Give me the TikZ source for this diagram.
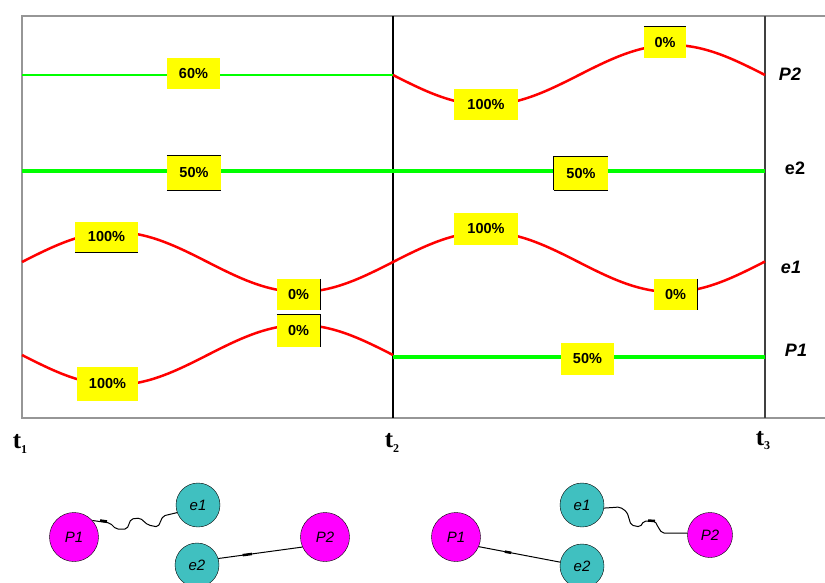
\documentclass[tikz,border=0pt]{standalone}
\usepackage{fontspec}
\setmainfont{Liberation Sans}
\newfontfamily\tfont{Liberation Serif}
\usetikzlibrary{calc}
\definecolor{myred}{RGB}{255,0,0}
\definecolor{mygreen}{RGB}{0,255,0}
\definecolor{myyellow}{RGB}{255,255,0}
\definecolor{mymag}{RGB}{255,0,255}
\definecolor{myteal}{RGB}{64,192,192}
\definecolor{framegray}{RGB}{150,150,150}
\begin{document}
\begin{tikzpicture}[x=1pt,y=-1pt,
 pct/.style={fill=myyellow, inner sep=0pt, minimum height=31pt, font=\fontsize{14.5}{14.5}\selectfont\bfseries},
 wave/.style={myred, line width=2.5pt},
 gline/.style={mygreen, line width=2pt},
 gthick/.style={mygreen, line width=3.5pt},
 sidelbl/.style={font=\fontsize{18}{18}\selectfont\bfseries\itshape},
 tlbl/.style={font=\tfont\fontsize{25}{25}\selectfont\bfseries, inner sep=0pt},
 pnode/.style={circle, draw=black, fill=mymag, minimum size=49pt, inner sep=0pt, font=\fontsize{15}{15}\selectfont\itshape},
 enode/.style={circle, draw=black, fill=myteal, minimum size=44pt, inner sep=0pt, font=\fontsize{15}{15}\selectfont\itshape},
 bord/.style={black, line width=1.3pt},
 conn/.style={black, line width=1pt}
]
\useasboundingbox (0,0) rectangle (825,582);
% frame
\draw[framegray, line width=1.5pt] (825,16) -- (22,16) -- (22,418) -- (825,418);
\draw[black, line width=1.2pt] (393,16) -- (393,418);
\draw[black!75, line width=1.6pt] (765,16) -- (765,418);
% signals
\draw[gline] (22,75) -- (393,75);
\draw[wave] plot[domain=393:765,samples=120] (\x,{75+30*sin(0.96774*(\x-393))});
\draw[gthick] (22,171) -- (765,171);
\draw[wave] plot[domain=22:765,samples=220] (\x,{262-30*sin(0.97035*(\x-22))});
\draw[wave] plot[domain=22:393,samples=120] (\x,{355+30*sin(0.97035*(\x-22))});
\draw[gthick] (393,357) -- (765,357);
% percentage boxes
\node[pct, minimum width=53pt] (b1) at (193.5,73.5) {60\%};
\node[pct, minimum width=54pt, minimum height=34pt] (b2) at (194,173) {50\%};
\node[pct, minimum width=54pt, minimum height=33pt] (b3) at (581,173.5) {50\%};
\node[pct, minimum width=64pt] (b4) at (486,104.5) {100\%};
\node[pct, minimum width=42pt] (b5) at (665,42.5) {0\%};
\node[pct, minimum width=63pt, minimum height=30pt] (b6) at (106.5,237) {100\%};
\node[pct, minimum width=43pt] (b7) at (298.5,294.5) {0\%};
\node[pct, minimum width=43pt, minimum height=32pt] (b8) at (298.5,331) {0\%};
\node[pct, minimum width=61pt, minimum height=34pt] (b9) at (107.5,384) {100\%};
\node[pct, minimum width=64pt, minimum height=32pt] (b10) at (486,229) {100\%};
\node[pct, minimum width=43pt] (b11) at (675.5,294.5) {0\%};
\node[pct, minimum width=53pt, minimum height=32pt] (b12) at (587.5,359) {50\%};
% partial black borders
\draw[bord] (b2.north west) -- (b2.north east);
\draw[bord] (b2.south west) -- (b2.south east);
\draw[bord] (b3.south west) -- (b3.north west) -- (b3.north east);
\draw[bord] (b3.south west) -- (b3.south east);
\draw[bord] (b5.north west) -- (b5.north east);
\draw[bord] (b6.south west) -- (b6.south east);
\draw[bord] (b7.north east) -- (b7.south east);
\draw[bord] (b8.north west) -- (b8.north east) -- (b8.south east);
\draw[bord] (b11.north east) -- (b11.south east);
% side labels
\node[sidelbl] (lP2) at (790,74) {P2};
\node[font=\fontsize{18}{18}\selectfont\bfseries] (le2) at (795,168) {e2};
\node[sidelbl] (le1) at (791,267) {e1};
\node[sidelbl] (lP1) at (796,350) {P1};
% time labels
\node[tlbl] (t1) at (20,444) {t\raisebox{-5pt}{\fontsize{12}{12}\selectfont 1}};
\node[tlbl] (t2) at (392,443) {t\raisebox{-5pt}{\fontsize{12}{12}\selectfont 2}};
\node[tlbl] (t3) at (763,441) {t\raisebox{-4pt}{\fontsize{12}{12}\selectfont 3}};
% left configuration
\node[pnode] (P1a) at (74,537) {P1};
\node[enode] (e1a) at (198,505) {e1};
\node[enode] (e2a) at (197,565) {e2};
\node[pnode] (P2a) at (325,537) {P2};
\draw[conn, rounded corners=2pt] (P1a.42) -- (110,523) -- (116,529) -- (127,529) -- (131,519) -- (140,518) -- (148,525) -- (158,527) -- (163,516) -- (e1a.200);
\draw[line width=2.5pt] (100,520.5) -- (107,521.5);
\draw[conn] (e2a.17) -- (P2a.204);
\draw[line width=2.5pt] ($(e2a.17)!0.29!(P2a.204)$) -- ($(e2a.17)!0.4!(P2a.204)$);
% right configuration
\node[pnode] (P1b) at (456,537) {P1};
\node[enode] (e1b) at (582,505) {e1};
\node[enode] (e2b) at (582,566) {e2};
\node[pnode, minimum size=45pt] (P2b) at (710,535) {P2};
\draw[conn] (P1b.337) -- (e2b.170);
\draw[line width=2.5pt] ($(P1b.337)!0.32!(e2b.170)$) -- ($(P1b.337)!0.4!(e2b.170)$);
\draw[conn, rounded corners=2pt] (e1b.352) -- (620,507) -- (627,512) -- (631,525) -- (640,527) -- (644,521) -- (655,521) -- (658,527) -- (662,533) -- (P2b.175);
\draw[line width=2.5pt] (648,520.5) -- (655,521);
\end{tikzpicture}
\end{document}
